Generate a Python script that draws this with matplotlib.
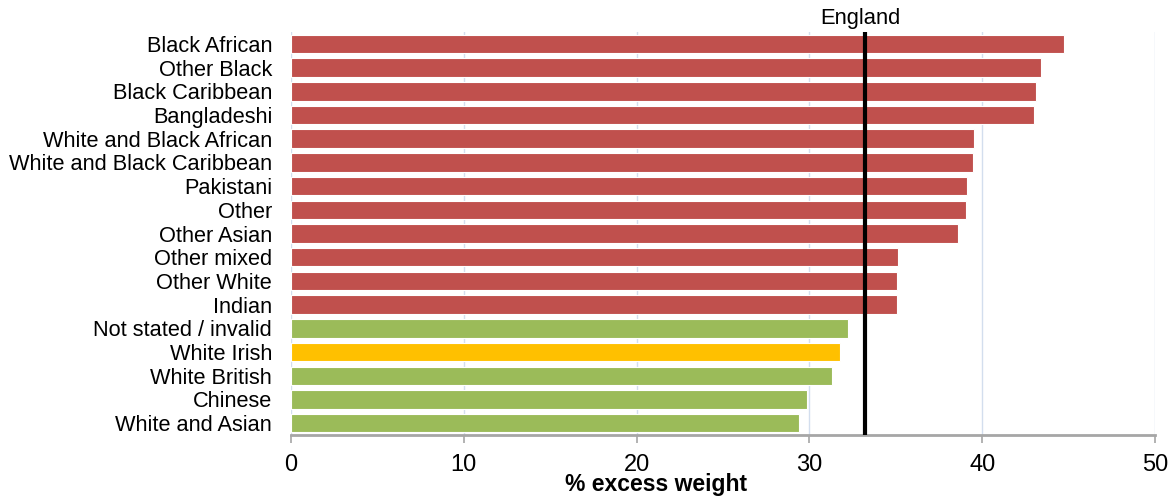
import numpy as np
import matplotlib.pyplot as plt
from matplotlib.transforms import blended_transform_factory

plt.rcParams['font.family'] = ['Liberation Sans', 'DejaVu Sans']

# data, top bar first
GROUPS = ["Black African", "Other Black", "Black Caribbean", "Bangladeshi",
          "White and Black African", "White and Black Caribbean", "Pakistani",
          "Other", "Other Asian", "Other mixed", "Other White", "Indian",
          "Not stated / invalid", "White Irish", "White British", "Chinese",
          "White and Asian"]
EXCESS = [44.75, 43.4, 43.1, 43.0, 39.55, 39.45, 39.15, 39.05, 38.6,
          35.15, 35.1, 35.05, 32.25, 31.8, 31.3, 29.85, 29.4]
ENGLAND = 33.2
COLOURS = ["#C0504D"] * 12 + ["#9BBB59", "#FFC000", "#9BBB59", "#9BBB59", "#9BBB59"]

fig = plt.figure(figsize=(11.71, 4.97), dpi=100)
ax = fig.add_axes([0.2485, 0.1247, 0.7378, 0.8109])

pos = np.arange(len(GROUPS))
ax.barh(pos, EXCESS, height=0.78, color=COLOURS, edgecolor="white",
        linewidth=0.8, zorder=2)
ax.axvline(ENGLAND, color="black", linewidth=3, zorder=3)

trans = blended_transform_factory(ax.transData, ax.transAxes)
ax.text(ENGLAND - 0.25, 1.008, "England", transform=trans, ha="center",
        va="bottom", fontsize=15.8)

ax.set_xlim(0, 50)
ax.set_ylim(len(GROUPS) - 0.5, -0.5)
ax.set_xticks(np.arange(0, 51, 10))
ax.set_yticks(pos)
ax.set_yticklabels(GROUPS, fontsize=15.7)
ax.tick_params(axis="y", length=0, pad=13.5)
ax.tick_params(axis="x", labelsize=17, length=5.5, width=1.2, color="#A6A6A6",
               pad=8.5)

ax.grid(axis="x", color="#D3DEEE", linewidth=1, zorder=0)
for side in ["top", "right", "left"]:
    ax.spines[side].set_visible(False)
ax.spines["bottom"].set_color("#A6A6A6")
ax.spines["bottom"].set_linewidth(2)

# the x title sits left of the axes centre in the original
fig.text(0.56, 0.012, "% excess weight", ha="center", va="baseline",
         fontsize=16.5, fontweight="bold")

fig.savefig("out.png", dpi=100)
